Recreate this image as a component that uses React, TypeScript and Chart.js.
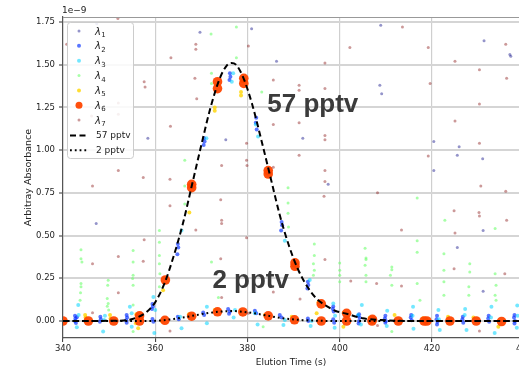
import React, { useEffect, useRef } from 'react';
import { Chart, registerables } from 'chart.js';
Chart.register(...registerables);

type P = [number, number];

const xTicks = [340, 360, 380, 400, 420, 440];
const yTicks = [0, 0.25, 0.5, 0.75, 1.0, 1.25, 1.5, 1.75];
const xTitle = 'Elution Time (s)';
const yTitle = 'Arbitray Absorbance';
const offsetText = '1e\u22129';
const seriesNames = ['λ1', 'λ2', 'λ3', 'λ4', 'λ5', 'λ6', 'λ7'];
const curveNames = ['57 pptv', '2 pptv'];
const annotationTexts = ['57 pptv', '2 pptv'];
const annotationX = [384.3, 372.4];
const annotationY = [1.223, 0.193];

// 57 pptv fitted curve
const curve57X = [340, 350, 354, 356, 358, 360, 362, 364, 366, 368, 370, 372, 374, 375.5, 376.5, 377.5, 379, 381, 383, 385, 387, 389, 391, 393, 395, 397, 399, 401.5, 405, 410, 415, 446];
const curve57Y = [0, 0.001, 0.006, 0.02, 0.05, 0.11, 0.22, 0.38, 0.57, 0.8, 1.03, 1.25, 1.42, 1.495, 1.51, 1.5, 1.43, 1.27, 1.06, 0.84, 0.62, 0.44, 0.3, 0.2, 0.13, 0.09, 0.06, 0.042, 0.016, 0.004, 0, 0];
// 2 pptv fitted curve
const curve2X = [340, 358, 361, 364, 367, 370, 373, 375, 377, 379, 381, 383, 385, 387, 389, 392, 396, 400, 446];
const curve2Y = [0, 0, 0.003, 0.012, 0.025, 0.04, 0.052, 0.057, 0.058, 0.054, 0.047, 0.038, 0.028, 0.019, 0.012, 0.005, 0.001, 0, 0];

const lambda1: P[] = [
  [347.3, 1.74], [358.4, 1.07], [347.2, 0.57], [369.7, 1.69], [380.9, 1.71], [386.3, 1.52], [375.3, 1.06],
  [392.0, 1.07], [408.9, 1.73], [431.3, 1.64], [436.9, 1.56], [437.1, 1.55], [408.7, 1.38], [409.1, 1.33],
  [420.4, 1.05], [425.9, 1.02], [425.5, 0.97], [431.0, 0.95], [420.4, 0.88], [431.1, 0.53], [425.5, 0.43],
  [431.1, 0.174], [397.5, 0.8]
];

const lambda2: P[] = [
  [342.6, 0.03], [342.7, 0.015], [342.6, 0.0], [342.8, -0.012], [343.0, 0.022],
  [348.1, 0.025], [348.2, 0.01], [348.0, -0.005],
  [353.8, 0.035], [353.9, 0.02], [353.7, 0.005], [353.8, -0.01],
  [359.4, 0.1], [359.5, 0.085], [359.3, 0.07], [359.4, 0.012], [359.6, -0.004],
  [364.9, 0.45], [365.0, 0.43], [364.8, 0.39], [364.9, 0.025], [365.1, 0.01],
  [370.6, 1.07], [370.7, 1.05], [370.5, 1.03], [370.4, 0.05], [370.6, 0.035],
  [376.2, 1.45], [376.3, 1.43], [376.1, 1.41], [375.8, 0.07], [376.2, 0.055], [376.0, 0.042],
  [381.9, 1.19], [381.8, 1.16], [382.0, 1.12], [381.6, 0.06], [381.9, 0.045],
  [387.4, 0.58], [387.5, 0.56], [387.3, 0.53], [387.0, 0.035], [387.4, 0.02],
  [393.1, 0.23], [393.2, 0.21], [393.0, 0.19], [393.1, 0.015], [393.2, 0.0],
  [398.6, 0.085], [398.5, 0.07], [398.7, 0.055], [398.6, 0.01], [398.8, -0.01],
  [404.2, 0.04], [404.0, 0.03], [404.3, 0.02], [404.2, 0.0], [404.1, -0.015],
  [409.9, 0.03], [409.8, 0.015], [410.0, 0.0], [409.9, -0.01],
  [415.5, 0.035], [415.4, 0.02], [415.6, 0.005],
  [421.1, 0.03], [421.0, 0.01], [421.2, -0.005], [421.1, -0.02],
  [426.7, 0.025], [426.6, 0.01], [426.8, -0.01],
  [432.3, 0.03], [432.2, 0.015], [432.4, -0.005],
  [437.9, 0.035], [437.8, 0.02], [438.0, 0.0], [437.9, -0.015]
];

const lambda3: P[] = [
  [343.3, 0.093], [343.4, 0.035], [343.0, -0.037],
  [348.9, 0.006], [348.7, -0.062], [349.1, 0.03],
  [354.5, 0.083], [354.9, 0.045], [354.9, -0.033],
  [359.6, 0.141], [360.0, 0.064], [359.8, -0.07],
  [365.7, 0.53], [365.4, 0.025], [365.7, -0.043],
  [371.1, 1.07], [371.2, 0.083], [371.2, -0.013],
  [376.9, 1.45], [376.6, 1.4], [377.3, 0.064], [377.0, 0.02],
  [382.3, 1.08], [381.8, 1.15], [381.6, 0.045], [382.2, -0.02],
  [388.1, 0.47], [388.1, 0.006], [387.8, -0.023],
  [393.5, 0.24], [393.9, 0.0], [393.7, -0.03],
  [398.6, 0.103], [399.0, 0.03], [398.9, -0.04],
  [404.0, 0.035], [404.8, 0.093], [404.6, -0.02],
  [410.3, 0.06], [410.2, -0.03],
  [415.9, 0.083], [415.8, 0.03], [416.0, -0.045],
  [421.4, 0.064], [421.5, 0.01], [421.7, -0.052],
  [427.1, 0.035], [427.5, -0.052], [427.2, 0.07],
  [432.9, 0.083], [433.6, -0.07], [432.8, 0.02],
  [438.5, 0.09], [438.4, -0.04], [438.6, 0.03]
];

const lambda4: P[] = [
  [343.9, 0.417], [343.9, 0.364], [344.1, 0.345], [343.9, 0.219], [343.9, 0.2], [343.8, 0.165], [343.7, 0.122],
  [349.8, 0.238], [349.7, 0.209], [349.6, 0.132], [349.8, 0.103], [349.6, 0.087], [349.9, 0.064],
  [355.2, 0.413], [355.2, 0.345], [355.2, 0.267], [355.1, 0.248], [355.2, 0.209], [355.2, 0.093], [355.2, -0.062],
  [360.9, 0.529], [360.9, 0.461], [360.9, 0.384], [360.9, 0.335], [361.0, 0.277], [360.9, 0.2],
  [366.4, 0.94], [366.4, 0.79], [366.4, 0.684],
  [372.1, 1.68], [372.2, 1.45], [372.2, 1.39], [372.2, 0.345], [373.7, 0.138],
  [377.6, 1.72], [377.6, 1.54],
  [383.1, 1.34], [383.4, -0.033],
  [388.8, 0.78], [388.8, 0.69], [388.8, 0.63], [388.9, 0.55],
  [394.5, 0.45], [394.5, 0.384], [394.3, 0.335], [394.5, 0.297], [394.3, 0.267],
  [400.0, 0.34], [400.0, 0.297], [400.0, 0.267], [400.0, 0.229],
  [405.5, 0.426], [405.7, 0.368], [405.7, 0.36], [405.5, 0.326], [405.7, 0.267], [405.7, 0.229],
  [411.3, 0.316], [411.3, 0.3], [411.0, 0.267], [411.3, 0.209], [411.3, -0.062],
  [416.8, 0.72], [416.8, 0.47], [416.8, 0.403], [416.8, 0.219], [417.4, 0.122],
  [422.8, 0.59], [422.6, 0.393], [422.6, 0.297], [422.6, 0.229], [422.6, 0.151],
  [428.2, 0.335], [428.2, 0.287], [428.0, 0.2], [428.0, 0.15],
  [433.7, 0.542], [433.7, 0.277], [433.9, 0.209], [433.7, 0.151], [433.9, 0.122]
];

const lambda5: P[] = [
  [344.8, 0.035], [344.9, 0.02],
  [350.2, 0.035], [350.3, 0.015],
  [355.8, -0.013], [356.3, -0.043], [355.9, 0.04],
  [361.7, 0.18], [361.4, 0.0],
  [367.4, 0.635], [367.3, 0.04],
  [372.9, 1.25], [372.9, 1.23], [372.9, 0.064],
  [378.6, 1.34], [378.6, 1.32], [378.5, 0.06],
  [383.8, 0.035],
  [389.6, 0.025],
  [395.0, 0.045], [395.4, 0.11],
  [400.8, -0.033], [400.9, 0.05],
  [406.5, 0.02],
  [411.9, 0.035],
  [418.1, 0.016],
  [423.5, 0.025],
  [429.0, 0.02],
  [434.4, -0.033]
];

const lambda6: P[] = [
  [340.0, 0.0], [345.5, 0.0], [351.0, 0.0], [356.6, 0.03], [356.6, 0.0], [362.2, 0.24], [362.1, 0.004],
  [367.9, 0.78], [367.9, 0.8], [367.9, 0.028], [373.5, 1.36], [373.5, 1.4], [373.5, 0.054],
  [379.2, 1.39], [379.2, 1.42], [379.0, 0.053], [384.5, 0.86], [384.5, 0.88], [384.5, 0.03],
  [390.3, 0.32], [390.3, 0.34], [390.2, 0.007], [396.0, 0.1], [396.0, 0.0], [401.5, 0.045], [401.5, 0.0],
  [407.0, 0.0], [407.1, 0.01], [412.7, 0.0], [418.3, 0.0], [418.9, 0.0], [423.9, 0.0], [429.6, 0.0], [435.1, -0.003]
];

const lambda7: P[] = [
  [351.9, 1.77], [340.8, 1.62], [363.4, 1.54], [357.6, 1.4], [357.8, 1.37], [352.0, 1.275], [346.2, 1.2],
  [352.0, 1.21], [363.3, 1.14], [352.0, 0.88], [357.4, 0.84], [363.2, 0.83], [346.4, 0.79], [363.2, 0.675],
  [357.6, 0.475], [352.0, 0.378], [346.4, 0.335], [357.4, 0.35], [352.0, 0.165], [346.4, 0.048], [363.2, -0.058],
  [368.8, 1.62], [368.8, 1.59], [368.6, 1.42], [369.0, 1.3], [380.2, 1.61], [379.8, 1.04], [374.4, 0.91],
  [379.8, 0.94], [379.9, 0.91], [385.6, 1.41], [385.6, 1.15], [385.6, 0.9], [391.2, 1.38], [391.2, 1.35],
  [391.2, 1.16], [391.2, 0.97], [396.8, 1.51], [396.8, 1.36], [396.8, 1.085], [396.8, 1.06], [396.8, 0.88],
  [402.2, 1.6], [413.6, 1.72], [419.2, 1.6], [425.0, 1.52], [436.0, 1.62], [430.3, 1.47], [436.2, 1.42],
  [419.6, 1.39], [430.3, 1.27], [425.0, 1.17], [430.3, 1.04], [419.2, 0.965],
  [408.2, 0.75], [430.6, 0.79], [436.0, 0.76], [424.8, 0.645], [430.2, 0.635], [430.3, 0.615], [436.2, 0.59],
  [413.4, 0.533], [425.0, 0.515], [424.8, 0.306], [435.8, 0.277], [408.0, 0.219], [413.4, 0.205],
  [430.3, -0.058], [408.2, -0.027], [396.8, 0.816], [396.6, 0.73], [396.8, 0.36], [402.4, 0.234],
  [368.8, 0.533], [374.2, 0.71], [374.4, 0.59], [374.4, 0.57], [379.8, 0.487], [374.2, 0.364], [374.4, 0.138],
  [391.4, 0.128], [385.6, 0.17], [380.2, 0.045]
];

const seriesData = [lambda1, lambda2, lambda3, lambda4, lambda5, lambda6, lambda7];
const seriesColors = [
  'rgba(0,0,128,0.42)',
  'rgba(0,45,255,0.65)',
  'rgba(0,212,255,0.55)',
  'rgba(110,255,110,0.6)',
  'rgba(255,212,0,0.8)',
  'rgba(255,70,0,0.95)',
  'rgba(128,0,0,0.4)'
];
const seriesRadius = [1.5, 2, 2, 1.5, 2, 4.8, 1.5];
const legendRadius = [1.5, 2, 2, 1.5, 2, 3.5, 1.5];

const CANVAS_W = 560;
const CANVAS_H = 370;
const PLOT_RIGHT = 550;
const X_MIN = 340;
const X_MAX = 445.6;
const Y_MIN = -0.0995;
const Y_MAX = 1.779;

const FONT = '"DejaVu Sans", sans-serif';

const decoPlugin = {
  id: 'deco',
  afterDraw(chart: any) {
    const { ctx, chartArea, scales } = chart;
    const xs = scales.x;
    const ys = scales.y;
    ctx.save();
    // top spine
    ctx.strokeStyle = '#999';
    ctx.lineWidth = 1;
    ctx.beginPath();
    ctx.moveTo(chartArea.left, chartArea.top + 0.5);
    ctx.lineTo(chartArea.right, chartArea.top + 0.5);
    ctx.stroke();

    // offset text
    ctx.fillStyle = '#222';
    ctx.font = `9px ${FONT}`;
    ctx.textAlign = 'left';
    ctx.textBaseline = 'alphabetic';
    ctx.fillText(offsetText, chartArea.left - 1, chartArea.top - 4);

    // x title
    ctx.font = `9px ${FONT}`;
    ctx.textAlign = 'center';
    ctx.fillText(xTitle, 291, 365);

    // annotations
    ctx.font = 'bold 26px "Liberation Sans", Arial, sans-serif';
    ctx.fillStyle = '#3b3b3b';
    ctx.textAlign = 'left';
    for (let i = 0; i < annotationTexts.length; i++) {
      ctx.fillText(annotationTexts[i], xs.getPixelForValue(annotationX[i]), ys.getPixelForValue(annotationY[i]));
    }

    // legend
    const lx = chartArea.left + 4;
    const ly = chartArea.top + 5;
    const lw = 66;
    const lh = 136;
    ctx.fillStyle = 'rgba(255,255,255,0.85)';
    ctx.strokeStyle = '#cccccc';
    ctx.lineWidth = 1;
    ctx.beginPath();
    (ctx as any).roundRect(lx + 0.5, ly + 0.5, lw, lh, 3);
    ctx.fill();
    ctx.stroke();
    const rowH = 14.85;
    const y0 = ly + 9;
    const mx = lx + 12;
    const tx = lx + 28;
    for (let i = 0; i < seriesNames.length; i++) {
      const y = y0 + i * rowH;
      ctx.fillStyle = seriesColors[i];
      ctx.beginPath();
      ctx.arc(mx, y, legendRadius[i], 0, Math.PI * 2);
      ctx.fill();
      ctx.fillStyle = '#222';
      ctx.font = `italic 10px ${FONT}`;
      ctx.textAlign = 'left';
      ctx.fillText(seriesNames[i].charAt(0), tx, y + 3.5);
      ctx.font = `7px ${FONT}`;
      ctx.fillText(seriesNames[i].slice(1), tx + 6.2, y + 6);
    }
    const dashes = [[6, 3.5], [1.8, 3]];
    for (let j = 0; j < curveNames.length; j++) {
      const y = y0 + (seriesNames.length + j) * rowH + 0.5;
      ctx.strokeStyle = '#000';
      ctx.lineWidth = 2;
      ctx.setLineDash(dashes[j]);
      ctx.beginPath();
      ctx.moveTo(lx + 3, y);
      ctx.lineTo(lx + 21, y);
      ctx.stroke();
      ctx.setLineDash([]);
      ctx.fillStyle = '#222';
      ctx.font = `9px ${FONT}`;
      ctx.fillText(curveNames[j], tx + 1, y + 3);
    }
    ctx.restore();
  }
};

export default function App() {
  const ref = useRef<HTMLCanvasElement>(null);
  useEffect(() => {
    const canvas = ref.current;
    if (!canvas) return;
    const datasets: any[] = [
      {
        label: curveNames[0],
        data: curve57X.map((x, i) => ({ x, y: curve57Y[i] })),
        showLine: true,
        borderColor: '#000',
        borderWidth: 2,
        borderDash: [6, 3.5],
        pointRadius: 0,
        cubicInterpolationMode: 'monotone',
        order: 0
      },
      {
        label: curveNames[1],
        data: curve2X.map((x, i) => ({ x, y: curve2Y[i] })),
        showLine: true,
        borderColor: '#000',
        borderWidth: 2,
        borderDash: [1.8, 3],
        pointRadius: 0,
        cubicInterpolationMode: 'monotone',
        order: 0
      }
    ];
    for (let i = seriesData.length - 1; i >= 0; i--) {
      datasets.push({
        label: seriesNames[i],
        data: seriesData[i].map(([x, y]) => ({ x, y })),
        backgroundColor: seriesColors[i],
        borderWidth: 0,
        pointRadius: seriesRadius[i],
        showLine: false,
        order: 7 - i
      });
    }
    const chart = new Chart(canvas, {
      type: 'scatter',
      data: { datasets },
      options: {
        responsive: false,
        animation: false,
        devicePixelRatio: 1,
        layout: { padding: { left: 0, right: CANVAS_W - PLOT_RIGHT, top: 17, bottom: 0 } },
        plugins: { legend: { display: false }, tooltip: { enabled: false } },
        scales: {
          x: {
            type: 'linear',
            min: X_MIN,
            max: X_MAX,
            afterBuildTicks: (s: any) => { s.ticks = xTicks.map((v) => ({ value: v })); },
            afterFit: (s: any) => { s.height = 32; },
            ticks: {
              autoSkip: false,
              maxRotation: 0,
              padding: 2,
              color: '#222',
              font: { family: 'DejaVu Sans', size: 8.5 },
              callback: (v: any) => String(v)
            },
            grid: { color: '#cfcfcf', lineWidth: 1.2, tickLength: 4, tickColor: '#333', tickWidth: 1 },
            border: { display: true, color: '#555', width: 1.2 }
          },
          y: {
            type: 'linear',
            min: Y_MIN,
            max: Y_MAX,
            afterBuildTicks: (s: any) => { s.ticks = yTicks.map((v) => ({ value: v })); },
            afterFit: (s: any) => { s.width = 63; },
            ticks: {
              autoSkip: false,
              padding: 4,
              color: '#222',
              font: { family: 'DejaVu Sans', size: 8.5 },
              callback: (v: any) => Number(v).toFixed(2)
            },
            grid: { color: '#d5d5d5', lineWidth: 2, tickLength: 4, tickColor: '#333', tickWidth: 1 },
            border: { display: true, color: '#555', width: 1.2 },
            title: {
              display: true,
              text: yTitle,
              color: '#222',
              font: { family: 'DejaVu Sans', size: 9.5 },
              padding: { top: 23, bottom: 0 }
            }
          }
        }
      } as any,
      plugins: [decoPlugin]
    });
    return () => chart.destroy();
  }, []);
  return (
    <div style={{ position: 'absolute', left: 0, top: 0, width: 519, height: 370, overflow: 'hidden', background: '#fff' }}>
      <canvas ref={ref} width={CANVAS_W} height={CANVAS_H} style={{ display: 'block' }} />
    </div>
  );
}
